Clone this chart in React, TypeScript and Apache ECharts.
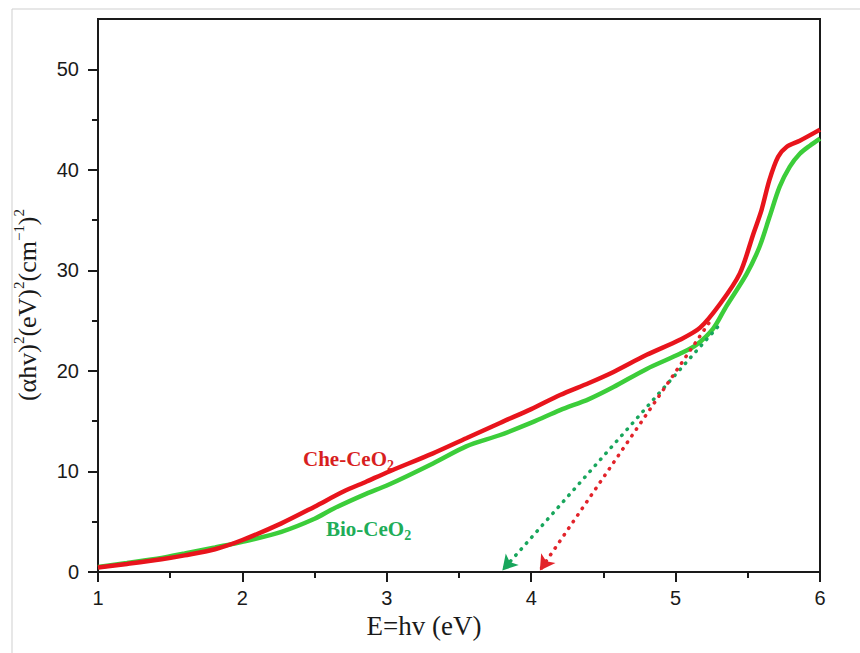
import React, { useEffect, useRef } from "react";
import * as echarts from "echarts";

// Che-CeO2 (red) curve
const cheX = [1.0, 1.2, 1.44, 1.6, 1.81, 2.0, 2.27, 2.5, 2.7, 2.86, 3.0, 3.32, 3.55, 3.78, 4.0, 4.2, 4.4, 4.57, 4.8, 5.03, 5.17, 5.31, 5.445, 5.54, 5.595, 5.65, 5.71, 5.77, 5.86, 6.0];
const cheY = [0.45, 0.8, 1.26, 1.65, 2.26, 3.18, 4.84, 6.5, 8.0, 9.0, 9.9, 11.8, 13.3, 14.8, 16.2, 17.6, 18.8, 19.9, 21.6, 23.1, 24.3, 26.7, 29.7, 33.7, 36.0, 39.0, 41.3, 42.3, 42.9, 44.0];

// Bio-CeO2 (green) curve
const bioX = [1.0, 1.2, 1.44, 1.6, 1.81, 2.0, 2.27, 2.5, 2.63, 2.86, 3.0, 3.32, 3.55, 3.78, 4.01, 4.2, 4.4, 4.57, 4.8, 5.03, 5.145, 5.26, 5.35, 5.49, 5.58, 5.65, 5.72, 5.79, 5.86, 5.93, 6.0];
const bioY = [0.5, 0.9, 1.4, 1.85, 2.45, 3.0, 4.0, 5.3, 6.3, 7.8, 8.6, 10.8, 12.5, 13.6, 14.9, 16.1, 17.2, 18.4, 20.2, 21.7, 22.6, 24.2, 26.4, 29.6, 32.3, 35.3, 38.3, 40.3, 41.6, 42.4, 43.1];

// Tangent (band-gap extrapolation) lines: [start, end]
const cheTangent = [[5.23, 24.75], [4.06, 0.15]];
const bioTangent = [[5.29, 24.35], [3.8, 0.15]];

// Tick values
const xMin = 1;
const xMax = 6;
const yMin = 0;
const yMax = 55;
const yLabelValues = [0, 10, 20, 30, 40, 50];
const yMinorValues = [5, 15, 25, 35, 45];

const SERIF = '"Liberation Serif", "Times New Roman", serif';
const SANS = '"Liberation Sans", Arial, sans-serif';
const AXIS = "#1a1a1a";

export default function App() {
  const ref = useRef<HTMLDivElement>(null);

  useEffect(() => {
    if (!ref.current) return;
    const chart = echarts.init(ref.current, undefined, { renderer: "svg" });

    const option: any = {
      animation: false,
      backgroundColor: "#ffffff",
      grid: {
        left: 98,
        right: 40,
        top: 19,
        bottom: 81,
        show: true,
        borderColor: AXIS,
        borderWidth: 2,
        backgroundColor: "transparent",
      },
      xAxis: {
        type: "value",
        min: xMin,
        max: xMax,
        interval: 1,
        axisLine: { show: true, onZero: false, lineStyle: { color: AXIS, width: 2 } },
        axisTick: { show: true, inside: false, length: 10, lineStyle: { color: AXIS, width: 2 } },
        minorTick: { show: true, splitNumber: 2, length: 6, lineStyle: { color: AXIS, width: 2 } },
        axisLabel: { fontSize: 20, color: AXIS, fontFamily: SANS, margin: 16 },
        splitLine: { show: false },
        minorSplitLine: { show: false },
      },
      yAxis: [
        {
          type: "value",
          min: yMin,
          max: yMax,
          interval: 5,
          position: "left",
          axisLine: { show: true, onZero: false, lineStyle: { color: AXIS, width: 2 } },
          axisTick: { show: true, inside: false, length: 10, customValues: yLabelValues, lineStyle: { color: AXIS, width: 2 } },
          axisLabel: { fontSize: 20, color: AXIS, fontFamily: SANS, margin: 19, customValues: yLabelValues },
          splitLine: { show: false },
        },
        {
          type: "value",
          min: yMin,
          max: yMax,
          interval: 5,
          position: "left",
          axisLine: { show: false },
          axisTick: { show: true, inside: false, length: 6, customValues: yMinorValues, lineStyle: { color: AXIS, width: 2 } },
          axisLabel: { show: false },
          splitLine: { show: false },
        },
      ],
      series: [
        {
          name: "Bio-CeO2",
          type: "line",
          yAxisIndex: 0,
          data: bioX.map((x, i) => [x, bioY[i]]),
          smooth: 0.3,
          symbol: "none",
          showSymbol: false,
          silent: true,
          lineStyle: { color: "#3ccd3a", width: 4.5 },
          markLine: {
            silent: true,
            symbol: ["none", "arrow"],
            symbolSize: [13, 15],
            label: { show: false },
            emphasis: { disabled: true },
            lineStyle: { color: "#18a65c", width: 3.5, type: [0.5, 7.5], cap: "round" },
            data: [[{ coord: bioTangent[0] }, { coord: bioTangent[1] }]],
          },
        },
        {
          name: "Che-CeO2",
          type: "line",
          yAxisIndex: 0,
          data: cheX.map((x, i) => [x, cheY[i]]),
          smooth: 0.3,
          symbol: "none",
          showSymbol: false,
          silent: true,
          lineStyle: { color: "#e8141c", width: 4.5 },
          markLine: {
            silent: true,
            symbol: ["none", "arrow"],
            symbolSize: [13, 15],
            label: { show: false },
            emphasis: { disabled: true },
            lineStyle: { color: "#e2232a", width: 3.5, type: [0.5, 7.5], cap: "round" },
            data: [[{ coord: cheTangent[0] }, { coord: cheTangent[1] }]],
          },
        },
      ],
      graphic: [
        // light frame of the figure
        { type: "line", shape: { x1: 12, y1: 9, x2: 860, y2: 9 }, style: { stroke: "#cfcfcf", lineWidth: 1 }, silent: true },
        { type: "line", shape: { x1: 12, y1: 9, x2: 12, y2: 653 }, style: { stroke: "#cfcfcf", lineWidth: 1 }, silent: true },
        // x-axis title
        {
          type: "text",
          x: 424,
          y: 626,
          silent: true,
          style: {
            text: "E=hv (eV)",
            font: `27px ${SERIF}`,
            fill: AXIS,
            textAlign: "center",
            textVerticalAlign: "middle",
          },
        },
        // y-axis title
        {
          type: "text",
          x: 27,
          y: 305,
          rotation: Math.PI / 2,
          silent: true,
          style: {
            text: "{m|(αhv)}{s|2}{m|(eV)}{s|2}{m|(cm}{s|−1}{m|)}{s|2}",
            textAlign: "center",
            textVerticalAlign: "middle",
            fill: AXIS,
            rich: {
              m: { fontSize: 26, fontFamily: SERIF, lineHeight: 32, fill: AXIS, color: AXIS },
              s: { fontSize: 15, fontFamily: SERIF, lineHeight: 16, verticalAlign: "top", fill: AXIS, color: AXIS },
            },
          },
        },
        // series labels
        {
          type: "text",
          x: 303,
          y: 459,
          silent: true,
          style: {
            text: "{m|Che-CeO}{s|2}",
            textAlign: "left",
            textVerticalAlign: "middle",
            fill: "#d81f1f",
            rich: {
              m: { fontSize: 21, fontWeight: "bold", fontFamily: SERIF, lineHeight: 26, fill: "#d81f1f", color: "#d81f1f" },
              s: { fontSize: 14, fontWeight: "bold", fontFamily: SERIF, lineHeight: 14, verticalAlign: "bottom", fill: "#d81f1f", color: "#d81f1f" },
            },
          },
        },
        {
          type: "text",
          x: 326,
          y: 529,
          silent: true,
          style: {
            text: "{m|Bio-CeO}{s|2}",
            textAlign: "left",
            textVerticalAlign: "middle",
            fill: "#20ad58",
            rich: {
              m: { fontSize: 21, fontWeight: "bold", fontFamily: SERIF, lineHeight: 26, fill: "#20ad58", color: "#20ad58" },
              s: { fontSize: 14, fontWeight: "bold", fontFamily: SERIF, lineHeight: 14, verticalAlign: "bottom", fill: "#20ad58", color: "#20ad58" },
            },
          },
        },
      ],
    };

    chart.setOption(option);
    return () => chart.dispose();
  }, []);

  return (
    <div
      ref={ref}
      style={{ position: "absolute", left: 0, top: 0, width: 860, height: 653, background: "#fff" }}
    />
  );
}
